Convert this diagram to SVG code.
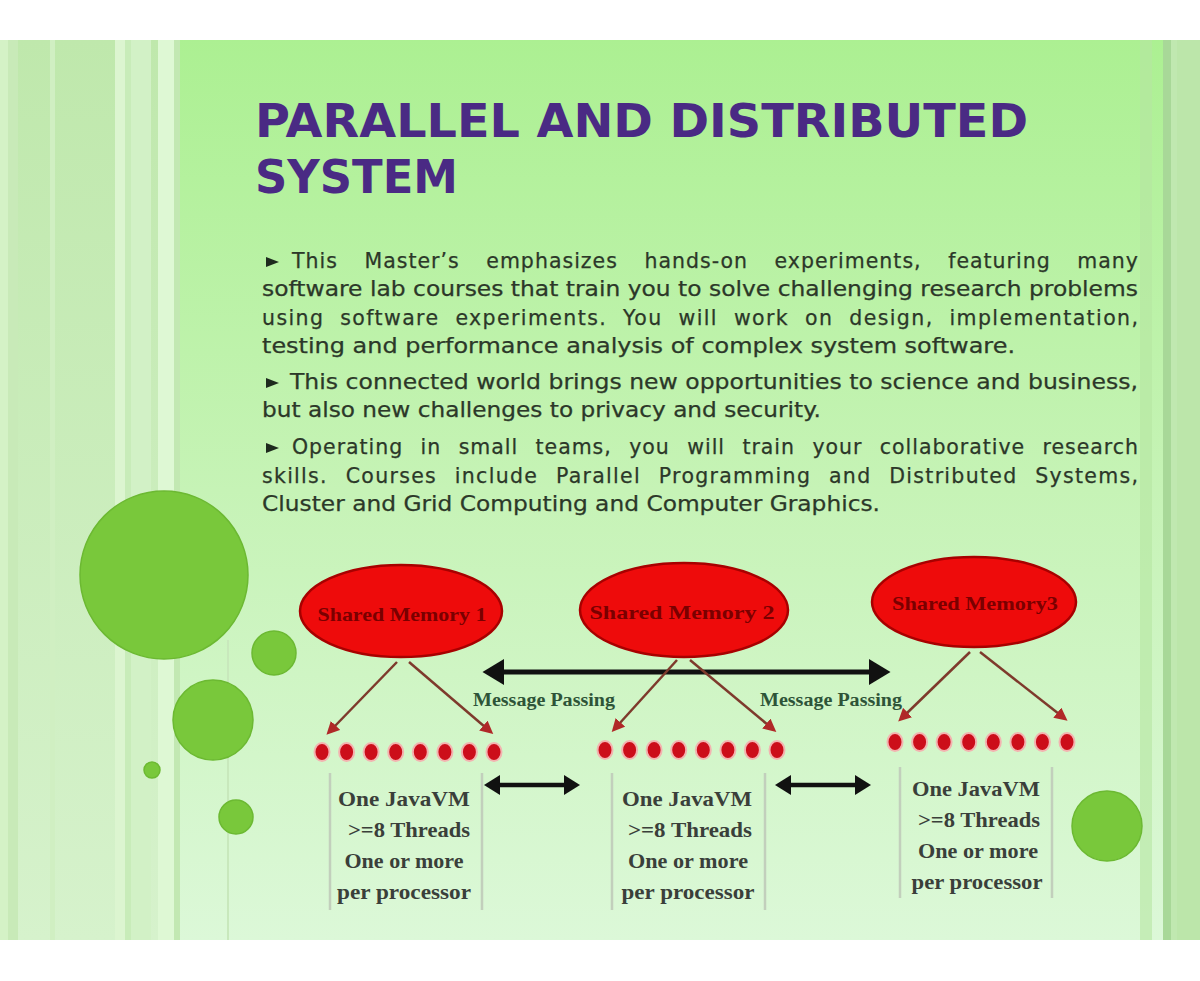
<svg xmlns="http://www.w3.org/2000/svg" width="1200" height="981" viewBox="0 0 1200 981">
<defs>
<linearGradient id="bg" x1="0" y1="0" x2="0" y2="1">
<stop offset="0" stop-color="#acf092"/>
<stop offset="0.5" stop-color="#c6f3b6"/>
<stop offset="1" stop-color="#dcf8d8"/>
</linearGradient>
<linearGradient id="side" x1="0" y1="0" x2="0" y2="1">
<stop offset="0" stop-color="#bfe8ac"/>
<stop offset="1" stop-color="#d6f2cc"/>
</linearGradient>
<marker id="bigHead" viewBox="0 0 20 24" refX="2" refY="12" markerWidth="22" markerHeight="26" markerUnits="userSpaceOnUse" orient="auto-start-reverse">
<path d="M0,0 L20,12 L0,24 Z" fill="#111"/>
</marker>
<marker id="smallHead" viewBox="0 0 16 20" refX="2" refY="10" markerWidth="16" markerHeight="20" markerUnits="userSpaceOnUse" orient="auto-start-reverse">
<path d="M0,0 L16,10 L0,20 Z" fill="#111"/>
</marker>
<marker id="brownHead" viewBox="0 0 12 12" refX="2" refY="6" markerWidth="13" markerHeight="13" markerUnits="userSpaceOnUse" orient="auto">
<path d="M0,0 L12,6 L0,12 Z" fill="#b02828"/>
</marker>
<style>
.title{font-family:"DejaVu Sans","Liberation Sans",sans-serif;font-weight:bold;font-size:47px;fill:#4a2a84}
.body{font-family:"DejaVu Sans","Liberation Sans",sans-serif;font-size:20.5px;fill:#2c3829;stroke:#2c3829;stroke-width:0.25}
.bullet{fill:#1e2a1e}
.mem{fill:#ee0b0b;stroke:#a80000;stroke-width:2.5}
.memtxt{font-family:"Liberation Serif","Times New Roman",serif;font-weight:bold;font-size:19px;fill:#7a0000;text-anchor:middle}
.dot{fill:#cc0e1a;stroke:#f3b3b0;stroke-width:2}
.box{stroke:#c2cfbc;stroke-width:2.5;fill:none}
.boxtxt{font-family:"Liberation Serif","Times New Roman",serif;font-weight:bold;font-size:21px;fill:#3a3f3a;text-anchor:middle}
.msg{font-family:"Liberation Serif","Times New Roman",serif;font-weight:bold;font-size:18px;fill:#2e5438}
.green{fill:#79c83b;stroke:#6cb932;stroke-width:1.5}
</style>
</defs>

<!-- page background -->
<rect x="0" y="0" width="1200" height="981" fill="#ffffff"/>
<rect x="0" y="40" width="1200" height="900" fill="url(#bg)"/>
<!-- left stripes -->
<rect x="0" y="40" width="180" height="900" fill="url(#side)"/>
<rect x="0" y="40" width="8" height="900" fill="#d4f2c6"/>
<rect x="8" y="40" width="10" height="900" fill="#c8eab8"/>
<rect x="50" y="40" width="5" height="900" fill="#d0efc2"/>
<rect x="115" y="40" width="10" height="900" fill="#dcf5d0"/>
<rect x="125" y="40" width="6" height="900" fill="#c8ecb9"/>
<rect x="131" y="40" width="20" height="900" fill="#d2f1c6"/>
<rect x="158" y="40" width="16" height="900" fill="#def8d4"/>
<rect x="174" y="40" width="6" height="900" fill="#c2e8b2"/>
<rect x="227" y="640" width="2" height="300" fill="#c8e8bc"/>
<!-- right stripes -->
<rect x="1140" y="40" width="12" height="900" fill="#b6e6a2" opacity="0.6"/>
<rect x="1163" y="40" width="8" height="900" fill="#a8d898"/>
<rect x="1171" y="40" width="6" height="900" fill="#c0e8b0"/>
<rect x="1177" y="40" width="23" height="900" fill="#bce6aa"/>

<!-- title -->
<g id="title">
<text class="title" x="255" y="137" textLength="773" lengthAdjust="spacingAndGlyphs">PARALLEL AND DISTRIBUTED</text>
<text class="title" x="255" y="193" textLength="203" lengthAdjust="spacingAndGlyphs">SYSTEM</text>
</g>

<!-- body text -->
<g id="body">
<polygon class="bullet" points="266,257 279,262 266,267"/>
<text class="body" x="292" y="268" word-spacing="19" textLength="846" lengthAdjust="spacing">This Master’s emphasizes hands-on experiments, featuring many</text>
<text class="body" x="262" y="296" textLength="876" lengthAdjust="spacingAndGlyphs">software lab courses that train you to solve challenging research problems</text>
<text class="body" x="262" y="325" word-spacing="8" textLength="876" lengthAdjust="spacing">using software experiments. You will work on design, implementation,</text>
<text class="body" x="262" y="353" textLength="753" lengthAdjust="spacingAndGlyphs">testing and performance analysis of complex system software.</text>
<polygon class="bullet" points="266,378 279,383 266,388"/>
<text class="body" x="290" y="389" textLength="848" lengthAdjust="spacingAndGlyphs">This connected world brings new opportunities to science and business,</text>
<text class="body" x="262" y="417" textLength="559" lengthAdjust="spacingAndGlyphs">but also new challenges to privacy and security.</text>
<polygon class="bullet" points="266,443 279,448 266,453"/>
<text class="body" x="292" y="454" word-spacing="10" textLength="846" lengthAdjust="spacing">Operating in small teams, you will train your collaborative research</text>
<text class="body" x="262" y="483" word-spacing="10" textLength="876" lengthAdjust="spacing">skills. Courses include Parallel Programming and Distributed Systems,</text>
<text class="body" x="262" y="511" textLength="618" lengthAdjust="spacingAndGlyphs">Cluster and Grid Computing and Computer Graphics.</text>
</g>

<!-- decorative circles -->
<g id="circles">
<circle class="green" cx="164" cy="575" r="84"/>
<circle class="green" cx="274" cy="653" r="22"/>
<circle class="green" cx="213" cy="720" r="40"/>
<circle class="green" cx="152" cy="770" r="8" fill="#7cbc48"/>
<circle class="green" cx="236" cy="817" r="17"/>
<circle class="green" cx="1107" cy="826" r="35"/>
</g>

<!-- connectors -->
<g id="connectors">
<line x1="502" y1="672" x2="871" y2="672" stroke="#111" stroke-width="5" marker-start="url(#bigHead)" marker-end="url(#bigHead)"/>
<line x1="498" y1="785" x2="566" y2="785" stroke="#111" stroke-width="4.5" marker-start="url(#smallHead)" marker-end="url(#smallHead)"/>
<line x1="789" y1="785" x2="857" y2="785" stroke="#111" stroke-width="4.5" marker-start="url(#smallHead)" marker-end="url(#smallHead)"/>
<line x1="397" y1="662" x2="334" y2="727" stroke="#7e3a2c" stroke-width="2.5" marker-end="url(#brownHead)"/>
<line x1="409" y1="662" x2="485" y2="727" stroke="#7e3a2c" stroke-width="2.5" marker-end="url(#brownHead)"/>
<line x1="677" y1="660" x2="619" y2="724" stroke="#7e3a2c" stroke-width="2.5" marker-end="url(#brownHead)"/>
<line x1="690" y1="660" x2="768" y2="725" stroke="#7e3a2c" stroke-width="2.5" marker-end="url(#brownHead)"/>
<line x1="970" y1="652" x2="906" y2="714" stroke="#7e3a2c" stroke-width="2.5" marker-end="url(#brownHead)"/>
<line x1="980" y1="652" x2="1059" y2="714" stroke="#7e3a2c" stroke-width="2.5" marker-end="url(#brownHead)"/>
<text class="msg" x="473" y="706" textLength="142" lengthAdjust="spacingAndGlyphs">Message Passing</text>
<text class="msg" x="760" y="706" textLength="142" lengthAdjust="spacingAndGlyphs">Message Passing</text>
</g>

<!-- shared memory nodes -->
<g id="mem1">
<ellipse class="mem" cx="401" cy="611" rx="101" ry="46"/>
<text class="memtxt" x="402" y="621" textLength="169" lengthAdjust="spacingAndGlyphs">Shared Memory 1</text>
</g>
<g id="mem2">
<ellipse class="mem" cx="684" cy="610" rx="104" ry="47"/>
<text class="memtxt" x="682" y="619" textLength="185" lengthAdjust="spacingAndGlyphs">Shared Memory 2</text>
</g>
<g id="mem3">
<ellipse class="mem" cx="974" cy="602" rx="102" ry="45"/>
<text class="memtxt" x="975" y="610" textLength="166" lengthAdjust="spacingAndGlyphs">Shared Memory3</text>
</g>

<!-- thread dot rows -->
<g id="threads1">
<ellipse class="dot" cx="322" cy="752" rx="7.5" ry="9"/>
<ellipse class="dot" cx="346.6" cy="752" rx="7.5" ry="9"/>
<ellipse class="dot" cx="371.1" cy="752" rx="7.5" ry="9"/>
<ellipse class="dot" cx="395.7" cy="752" rx="7.5" ry="9"/>
<ellipse class="dot" cx="420.3" cy="752" rx="7.5" ry="9"/>
<ellipse class="dot" cx="444.9" cy="752" rx="7.5" ry="9"/>
<ellipse class="dot" cx="469.4" cy="752" rx="7.5" ry="9"/>
<ellipse class="dot" cx="494" cy="752" rx="7.5" ry="9"/>
</g>
<g id="threads2">
<ellipse class="dot" cx="605" cy="750" rx="7.5" ry="9"/>
<ellipse class="dot" cx="629.6" cy="750" rx="7.5" ry="9"/>
<ellipse class="dot" cx="654.1" cy="750" rx="7.5" ry="9"/>
<ellipse class="dot" cx="678.7" cy="750" rx="7.5" ry="9"/>
<ellipse class="dot" cx="703.3" cy="750" rx="7.5" ry="9"/>
<ellipse class="dot" cx="727.9" cy="750" rx="7.5" ry="9"/>
<ellipse class="dot" cx="752.4" cy="750" rx="7.5" ry="9"/>
<ellipse class="dot" cx="777" cy="750" rx="7.5" ry="9"/>
</g>
<g id="threads3">
<ellipse class="dot" cx="895" cy="742" rx="7.5" ry="9"/>
<ellipse class="dot" cx="919.6" cy="742" rx="7.5" ry="9"/>
<ellipse class="dot" cx="944.1" cy="742" rx="7.5" ry="9"/>
<ellipse class="dot" cx="968.7" cy="742" rx="7.5" ry="9"/>
<ellipse class="dot" cx="993.3" cy="742" rx="7.5" ry="9"/>
<ellipse class="dot" cx="1017.9" cy="742" rx="7.5" ry="9"/>
<ellipse class="dot" cx="1042.4" cy="742" rx="7.5" ry="9"/>
<ellipse class="dot" cx="1067" cy="742" rx="7.5" ry="9"/>
</g>

<!-- JVM boxes -->
<g id="jvm1">
<line class="box" x1="330" y1="773" x2="330" y2="910"/>
<line class="box" x1="482" y1="773" x2="482" y2="910"/>
<text class="boxtxt" x="404" y="806" textLength="132" lengthAdjust="spacingAndGlyphs">One JavaVM</text>
<text class="boxtxt" x="409" y="837" textLength="122" lengthAdjust="spacingAndGlyphs">&gt;=8 Threads</text>
<text class="boxtxt" x="404" y="868" textLength="119" lengthAdjust="spacingAndGlyphs">One or more</text>
<text class="boxtxt" x="404" y="899" textLength="134" lengthAdjust="spacingAndGlyphs">per processor</text>
</g>
<g id="jvm2">
<line class="box" x1="612" y1="773" x2="612" y2="910"/>
<line class="box" x1="765" y1="773" x2="765" y2="910"/>
<text class="boxtxt" x="687" y="806" textLength="130" lengthAdjust="spacingAndGlyphs">One JavaVM</text>
<text class="boxtxt" x="690" y="837" textLength="124" lengthAdjust="spacingAndGlyphs">&gt;=8 Threads</text>
<text class="boxtxt" x="688" y="868" textLength="120" lengthAdjust="spacingAndGlyphs">One or more</text>
<text class="boxtxt" x="688" y="899" textLength="133" lengthAdjust="spacingAndGlyphs">per processor</text>
</g>
<g id="jvm3">
<line class="box" x1="900" y1="767" x2="900" y2="898"/>
<line class="box" x1="1052" y1="767" x2="1052" y2="898"/>
<text class="boxtxt" x="976" y="796" textLength="128" lengthAdjust="spacingAndGlyphs">One JavaVM</text>
<text class="boxtxt" x="979" y="827" textLength="122" lengthAdjust="spacingAndGlyphs">&gt;=8 Threads</text>
<text class="boxtxt" x="978" y="858" textLength="120" lengthAdjust="spacingAndGlyphs">One or more</text>
<text class="boxtxt" x="977" y="889" textLength="131" lengthAdjust="spacingAndGlyphs">per processor</text>
</g>
</svg>
